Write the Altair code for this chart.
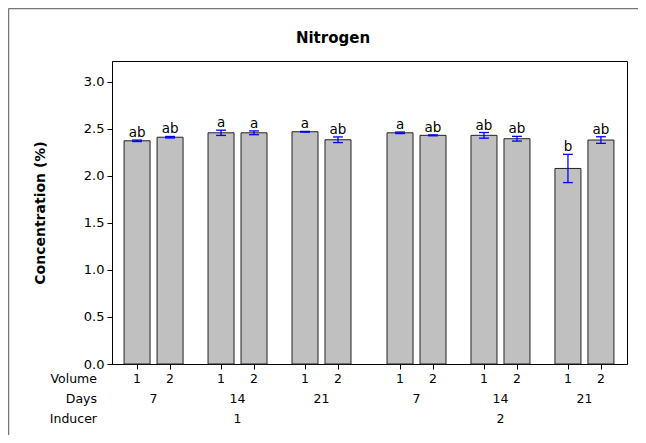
import altair as alt
import pandas as pd

inducer = ["1"] * 6 + ["2"] * 6
days = ["7", "7", "14", "14", "21", "21"] * 2
volume = ["1", "2"] * 6
means = [2.372, 2.41, 2.457, 2.457, 2.468, 2.383, 2.457, 2.43, 2.43, 2.394, 2.078, 2.38]
errs = [0.008, 0.008, 0.028, 0.02, 0.004, 0.03, 0.008, 0.005, 0.03, 0.025, 0.15, 0.035]
letters = ["ab", "ab", "a", "a", "a", "ab", "a", "ab", "ab", "ab", "b", "ab"]
y_ticks = [0.0, 0.5, 1.0, 1.5, 2.0, 2.5, 3.0]

# positions from the nesting structure (gaps between days / inducers)
pos = []
p = 0.0
for i in range(len(means)):
    if i > 0:
        if inducer[i] != inducer[i - 1]:
            p += 1.88
        elif days[i] != days[i - 1]:
            p += 1.545
        else:
            p += 1.0
    pos.append(p)

half = 0.394
cap = 0.15
df = pd.DataFrame({
    "inducer": inducer, "days": days, "volume": volume,
    "mean": means, "err": errs, "letter": letters, "pos": pos,
})
df["x0"] = df["pos"] - half
df["x1"] = df["pos"] + half
df["lo"] = df["mean"] - df["err"]
df["hi"] = df["mean"] + df["err"]
df["c0"] = df["pos"] - cap
df["c1"] = df["pos"] + cap
df["zero"] = 0.0

FONT = "DejaVu Sans"
FS = 12.5
xs = alt.Scale(domain=[-0.76, 14.85], nice=False, zero=False)
ys = alt.Scale(domain=[0, 3.22], nice=False)

bars = alt.Chart(df).mark_bar(color="#C0C0C0", stroke="#222222", strokeWidth=1).encode(
    x=alt.X("x0:Q", scale=xs,
            axis=alt.Axis(values=pos, labels=False, ticks=True, tickSize=5, tickColor="black",
                          domainColor="black", grid=False, title=None)),
    x2="x1:Q",
    y=alt.Y("mean:Q", scale=ys,
            axis=alt.Axis(values=y_ticks, format=".1f", tickSize=5, tickColor="black",
                          domainColor="black", grid=False, labelFontSize=13, labelColor="black",
                          labelFont=FONT, labelPadding=3,
                          title="Concentration (%)", titleFont=FONT, titleFontSize=14,
                          titleFontWeight="bold", titleColor="black", titlePadding=36)),
    y2="zero:Q",
)

err_rule = alt.Chart(df).mark_rule(color="#0000FF", strokeWidth=1.3).encode(
    x="pos:Q", y="lo:Q", y2="hi:Q")
cap_lo = alt.Chart(df).mark_rule(color="#0000FF", strokeWidth=1.3).encode(
    x="c0:Q", x2="c1:Q", y="lo:Q")
cap_hi = alt.Chart(df).mark_rule(color="#0000FF", strokeWidth=1.3).encode(
    x="c0:Q", x2="c1:Q", y="hi:Q")

labels = alt.Chart(df).mark_text(baseline="bottom", dy=0, fontSize=13.5, font=FONT, color="black").encode(
    x="pos:Q", y="hi:Q", text="letter:N")

vol_text = alt.Chart(df).mark_text(fontSize=FS, font=FONT, color="black", baseline="middle").encode(
    x="pos:Q", y=alt.value(318), text="volume:N")

day_df = df.groupby(["inducer", "days"], sort=False, as_index=False)["pos"].mean()
day_text = alt.Chart(day_df).mark_text(fontSize=FS, font=FONT, color="black", baseline="middle").encode(
    x="pos:Q", y=alt.value(338), text="days:N")

ind_df = df.groupby(["inducer"], sort=False, as_index=False)["pos"].mean()
ind_text = alt.Chart(ind_df).mark_text(fontSize=FS, font=FONT, color="black", baseline="middle").encode(
    x="pos:Q", y=alt.value(358), text="inducer:N")

row_df = pd.DataFrame({"name": ["Volume", "Days", "Inducer"], "yy": [318, 338, 358]})
row_text = alt.Chart(row_df).mark_text(fontSize=FS, font=FONT, color="black", align="right",
                                       baseline="middle").encode(
    x=alt.value(-15), y=alt.Y("yy:Q", scale=None), text="name:N")

title_df = pd.DataFrame({"t": ["Nitrogen"]})
title = alt.Chart(title_df).mark_text(fontSize=15, font=FONT, fontWeight="bold", color="black",
                                      baseline="middle").encode(
    x=alt.value(221), y=alt.value(-23), text="t:N")

frame_top = alt.Chart(title_df).mark_rule(color="#777777", strokeWidth=1.5).encode(
    x=alt.value(-103.5), x2=alt.value(540), y=alt.value(-52.5))
frame_left = alt.Chart(title_df).mark_rule(color="#777777", strokeWidth=1.5).encode(
    x=alt.value(-103.5), y=alt.value(-52.5), y2=alt.value(390))

chart = alt.layer(
    bars, err_rule, cap_lo, cap_hi, labels, vol_text, day_text, ind_text, row_text, title,
    frame_top, frame_left,
).properties(
    width=515, height=303,
    autosize=alt.AutoSizeParams(type="none"),
    padding={"left": 104, "top": 53, "right": 11, "bottom": 71},
    background="white",
).configure(font=FONT).configure_view(stroke="black", strokeWidth=1)

chart.save("out.html", embed_options={"renderer": "svg", "actions": False})
